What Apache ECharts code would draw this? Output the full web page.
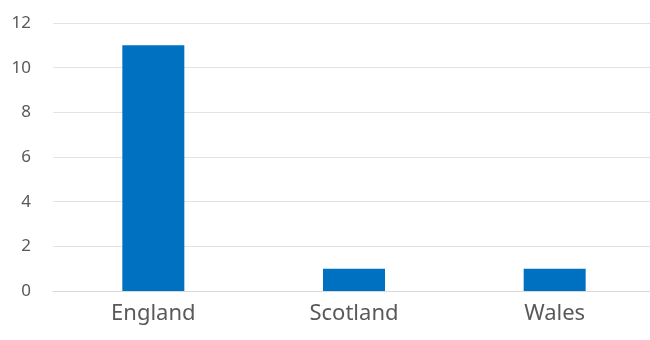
<!DOCTYPE html>
<html><head><meta charset="utf-8">
<script src="https://cdn.jsdelivr.net/npm/echarts@6/dist/echarts.min.js"></script>
<style>html,body{margin:0;padding:0;background:#fff;overflow:hidden}#c{width:650px;height:340px;display:block}</style>
</head><body><div id="c"></div>
<script>
const categories = ['England', 'Scotland', 'Wales'];
const values = [11, 1, 1];
const yTicks = { min: 0, max: 12, interval: 2 };

const chart = echarts.init(document.getElementById('c'), null, { renderer: 'canvas' });
chart.setOption({
  animation: false,
  grid: { left: 53, top: 23, width: 602, height: 268, containLabel: false, outerBoundsMode: 'none' },
  xAxis: {
    type: 'category', data: categories,
    axisLine: { show: true, lineStyle: { color: '#d9d9d9', width: 1 } },
    axisTick: { show: false },
    axisLabel: { color: '#595959', fontSize: 22, margin: 12, fontFamily: 'Noto Sans' }
  },
  yAxis: {
    type: 'value', min: yTicks.min, max: yTicks.max, interval: yTicks.interval,
    axisLine: { show: false }, axisTick: { show: false },
    splitLine: { lineStyle: { color: '#e3e3e3', width: 1 } },
    axisLabel: { color: '#595959', fontSize: 17, margin: 22, fontFamily: 'Noto Sans' }
  },
  series: [{
    type: 'bar', data: values, barWidth: 62,
    itemStyle: { color: '#0070c0' }
  }]
});
</script></body></html>
